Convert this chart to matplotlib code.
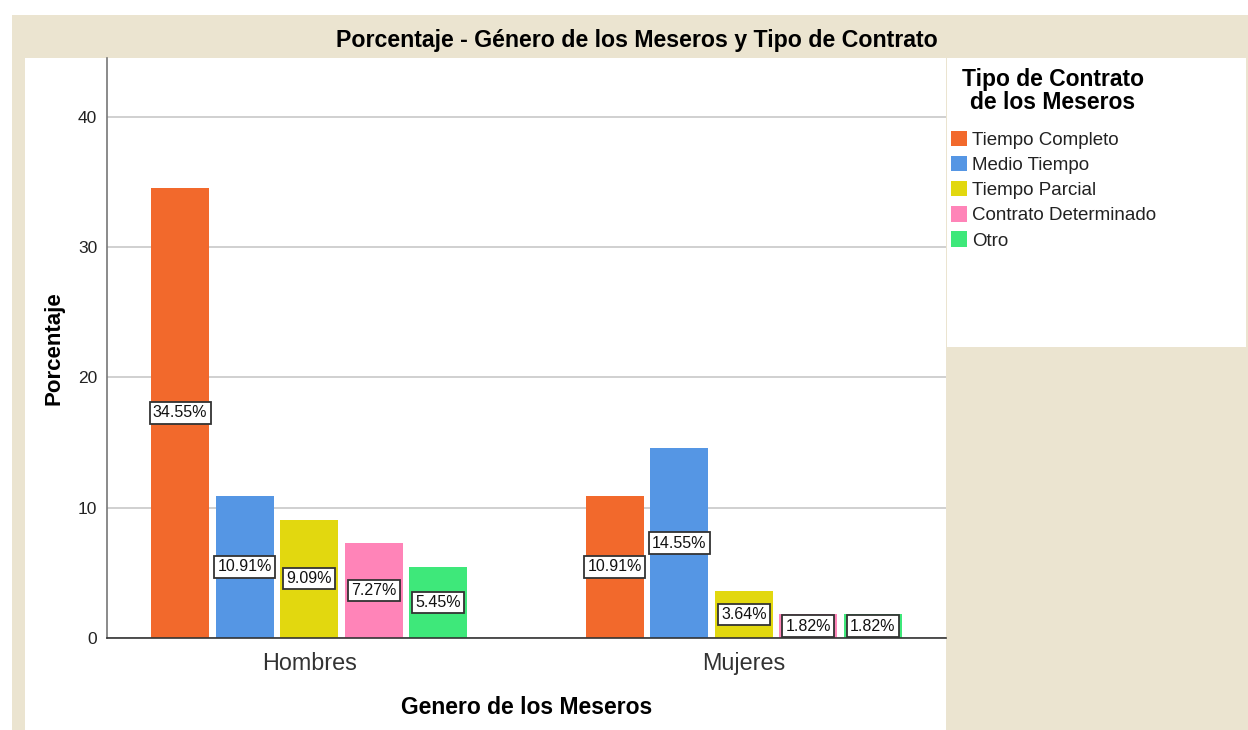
import matplotlib.pyplot as plt
from matplotlib.patches import Rectangle, Patch
import numpy as np

plt.rcParams['font.family'] = ['Liberation Sans', 'DejaVu Sans']

# data
generos = ['Hombres', 'Mujeres']
contratos = ['Tiempo Completo', 'Medio Tiempo', 'Tiempo Parcial',
             'Contrato Determinado', 'Otro']
hombres = [34.55, 10.91, 9.09, 7.27, 5.45]
mujeres = [10.91, 14.55, 3.64, 1.82, 1.82]
colores = ['#F2692C', '#5596E4', '#E2D80F', '#FF84B8', '#3EE87A']

W, H = 1248, 730
beige = '#EBE4D0'
fig = plt.figure(figsize=(W / 100, H / 100), dpi=100, facecolor='white')


def fbox(x0, y0, x1, y1, color):
    # rectangle in pixel coords (top-left origin)
    fig.patches.append(Rectangle((x0 / W, 1 - y1 / H), (x1 - x0) / W, (y1 - y0) / H,
                                 transform=fig.transFigure, facecolor=color,
                                 edgecolor='none', zorder=-5))


fbox(12, 15, W, H, beige)
fbox(25, 58, 946, H, 'white')
fbox(947, 58, 1246, 347, 'white')

fig.text(637 / W, 1 - 40 / H, 'Porcentaje - Género de los Meseros y Tipo de Contrato',
         ha='center', va='center', fontsize=16.7, fontweight='bold')

ax = fig.add_axes([107 / W, 1 - 638 / H, (946 - 107) / W, (638 - 58) / H])
ax.set_zorder(2)
ax.set_facecolor('white')

x = np.arange(len(generos))
ancho = 0.1334
paso = 0.1484
datos = np.array([hombres, mujeres])
for i, c in enumerate(contratos):
    pos = x + (i - 2) * paso
    vals = datos[:, i]
    ax.bar(pos, vals, width=ancho, color=colores[i], linewidth=0, zorder=2)
    for p, v in zip(pos, vals):
        ax.text(p, max(v / 2, 0.7), f'{v:.2f}%', ha='center', va='center',
                fontsize=11.5, color='#111111', zorder=3,
                bbox=dict(boxstyle='square,pad=0.2', facecolor='white',
                          edgecolor='#333333', linewidth=1.3))

ax.set_xlim(-0.465, 1.465)
ax.set_ylim(0, 44.5)
ax.set_yticks([0, 10, 20, 30, 40])
ax.yaxis.grid(True, color='#C8C8C8', linewidth=1.2, zorder=1)
ax.set_axisbelow(True)
ax.set_xticks(x)
ax.set_xticklabels(generos, fontsize=16.8, color='#333333')
ax.tick_params(axis='x', length=0, pad=10)
ax.tick_params(axis='y', length=0, pad=7, labelsize=12.5, labelcolor='#222222')
for s in ['top', 'right']:
    ax.spines[s].set_visible(False)
ax.spines['left'].set_color('#777777')
ax.spines['bottom'].set_color('#333333')
ax.spines['left'].set_linewidth(1.2)
ax.spines['bottom'].set_linewidth(1.2)

ax.set_ylabel('Porcentaje', fontsize=16, fontweight='bold', labelpad=10)
ax.set_xlabel('Genero de los Meseros', fontsize=16.5, fontweight='bold', labelpad=15)

# legend title drawn separately so the gap to the entries matches
fig.text(1053 / W, 1 - 91 / H, 'Tipo de Contrato\nde los Meseros', ha='center',
         va='center', multialignment='center', fontsize=16.5, fontweight='bold',
         linespacing=0.95)
handles = [Patch(facecolor=c, edgecolor='none') for c in colores]
leg = fig.legend(handles, contratos, loc='upper left',
                 bbox_to_anchor=(943 / W, 1 - 123 / H), frameon=False,
                 fontsize=13.5, handlelength=0.9, handleheight=0.9,
                 handletextpad=0.25, labelspacing=0.37, borderaxespad=0)
for t in leg.get_texts():
    t.set_color('#222222')

fig.savefig('out.png', dpi=100, facecolor=fig.get_facecolor())
